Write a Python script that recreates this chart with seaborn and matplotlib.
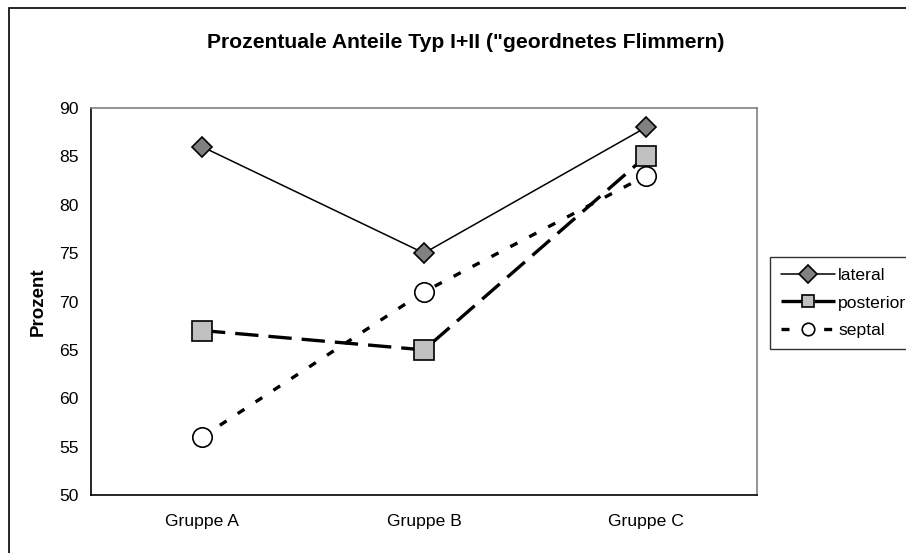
import matplotlib
matplotlib.use("Agg")
import matplotlib.pyplot as plt
import seaborn as sns
import pandas as pd
from matplotlib.patches import Rectangle

categories = ["Gruppe A", "Gruppe B", "Gruppe C"]
lateral = [86, 75, 88]
posterior = [67, 65, 85]
septal = [56, 71, 83]
series_names = ["lateral", "posterior", "septal"]
yticks = [50, 55, 60, 65, 70, 75, 80, 85, 90]

df = pd.DataFrame({
    "Gruppe": categories * 3,
    "Prozent": lateral + posterior + septal,
    "Serie": [series_names[0]] * 3 + [series_names[1]] * 3 + [series_names[2]] * 3,
})
df["x"] = df["Gruppe"].map({c: i for i, c in enumerate(categories)})

sns.set_theme(style="white")
plt.rcParams["font.family"] = ["Liberation Sans", "DejaVu Sans"]
plt.rcParams["text.color"] = "black"
plt.rcParams["xtick.color"] = "black"
plt.rcParams["ytick.color"] = "black"
plt.rcParams["axes.labelcolor"] = "black"

fig = plt.figure(figsize=(9.06, 5.53), dpi=100)
ax = fig.add_axes([91 / 906, 1 - 495 / 553, (757 - 91) / 906, (495 - 108) / 553])

styles = {
    "lateral": dict(color="black", lw=1.1, ls="-", marker="D", ms=10, mfc="#808080", mec="black", mew=1.2),
    "posterior": dict(color="black", lw=2.4, ls=(0, (7, 3)), marker="s", ms=14, mfc="#C0C0C0", mec="black", mew=1.2),
    "septal": dict(color="black", lw=2.4, ls=(0, (2.4, 4)), marker="o", ms=14, mfc="white", mec="black", mew=1.2),
}
legend_ms = {"lateral": 9, "posterior": 9, "septal": 9}

for name in series_names:
    sub = df[df["Serie"] == name]
    st = styles[name]
    sns.lineplot(data=sub, x="x", y="Prozent", ax=ax, color=st["color"], lw=st["lw"],
                 linestyle=st["ls"], marker=st["marker"], markersize=st["ms"],
                 markerfacecolor=st["mfc"], markeredgecolor=st["mec"], markeredgewidth=st["mew"],
                 label=name, legend=False)

fs = 12.6
ax.set_xlim(-0.5, 2.5)
ax.set_ylim(50, 90)
ax.set_yticks(yticks)
ax.set_yticklabels([str(v) for v in yticks], fontsize=fs)
ax.set_xticks([-0.5, 0.5, 1.5, 2.5])
ax.set_xticklabels([])
ax.set_xticks([0, 1, 2], minor=True)
ax.set_xticklabels(categories, minor=True, fontsize=fs)
ax.tick_params(axis="x", which="minor", length=0, pad=14)
ax.tick_params(axis="x", which="major", length=5, width=1, color="black", direction="out")
ax.tick_params(axis="y", length=5, width=1, color="black", direction="out", pad=4)
ax.set_xlabel("")
ax.set_ylabel("Prozent", fontsize=13.5, fontweight="bold", labelpad=9)

for s in ["left", "bottom"]:
    ax.spines[s].set_color("black")
    ax.spines[s].set_linewidth(1.2)
for s in ["top", "right"]:
    ax.spines[s].set_color("#808080")
    ax.spines[s].set_linewidth(1.2)

fig.text(466 / 906, 1 - 43 / 553, 'Prozentuale Anteile Typ I+II ("geordnetes Flimmern)',
         ha="center", va="center", fontsize=15.2, fontweight="bold")

handles = []
for n in series_names:
    st = dict(styles[n])
    st["ms"] = legend_ms[n]
    handles.append(plt.Line2D([], [], **st))
leg = fig.legend(handles, series_names, loc="upper left", bbox_to_anchor=(770 / 906, 1 - 257 / 553),
                 frameon=True, fancybox=False, edgecolor="black", fontsize=fs,
                 handlelength=3.1, handletextpad=0.2, borderpad=0.6, labelspacing=0.72,
                 borderaxespad=0)
leg.get_frame().set_linewidth(1)

fig.patches.append(Rectangle((9 / 906, -0.1), 1.2, 1 - 8 / 553 + 0.1, transform=fig.transFigure,
                             fill=False, edgecolor="black", lw=1.2, zorder=0))

fig.savefig("out.png", dpi=100)
